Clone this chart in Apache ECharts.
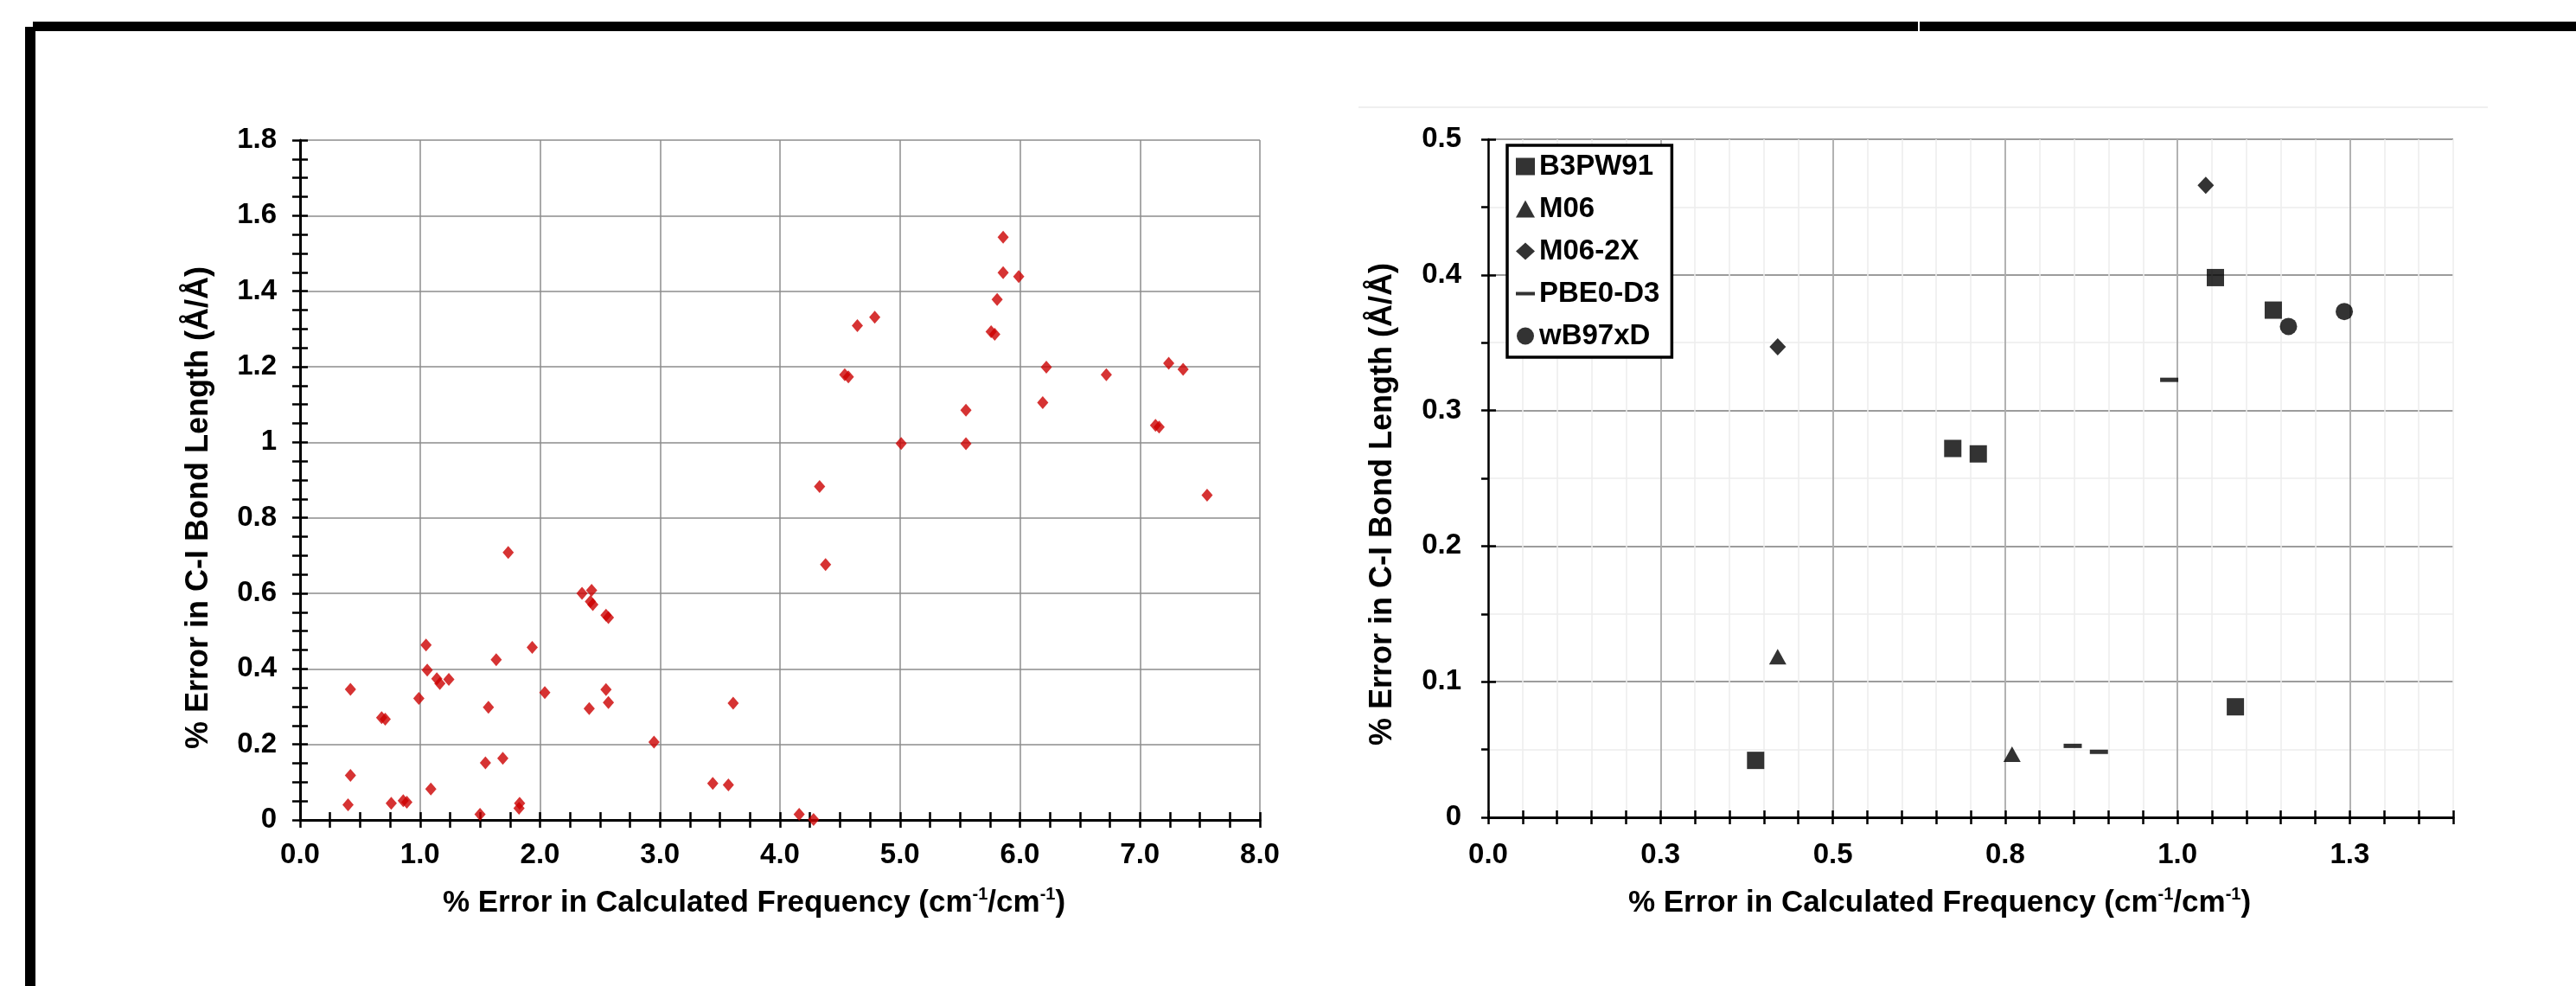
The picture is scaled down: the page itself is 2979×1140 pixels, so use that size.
<!DOCTYPE html>
<html>
<head>
<meta charset="utf-8">
<title>C-I bond length error vs frequency error</title>
<script src="https://cdn.jsdelivr.net/npm/echarts@6.0.0/dist/echarts.min.js"></script>
<style>
  html, body { margin: 0; padding: 0; background: #fff; }
  #chart { width: 2979px; height: 1140px; }
</style>
</head>
<body>
<div id="chart"></div>
<script>
// left panel: every molecule / method pair
let freqErr = [0.40, 0.42, 0.42, 0.68, 0.71, 0.76, 0.86, 0.89, 0.99, 1.05,
    1.06, 1.09, 1.14, 1.165, 1.24, 1.50, 1.545, 1.57, 1.635, 1.69,
    1.735, 1.825, 1.83, 1.935, 2.04, 2.35, 2.43, 2.42, 2.44, 2.41,
    2.55, 2.57, 2.55, 2.57, 2.95, 3.44, 3.57, 3.61, 4.16, 4.28,
    4.33, 4.38, 7.56, 4.54, 4.57, 4.645, 4.79, 5.01, 5.55, 5.55,
    5.76, 5.79, 5.81, 5.86, 5.86, 5.99, 6.19, 6.22, 6.72, 7.13,
    7.16, 7.24, 7.36];
let bondErr = [0.040, 0.118, 0.346, 0.271, 0.267, 0.044, 0.051, 0.047, 0.322, 0.463,
    0.397, 0.082, 0.374, 0.361, 0.372, 0.015, 0.151, 0.298, 0.424, 0.163,
    0.708, 0.031, 0.044, 0.457, 0.337, 0.600, 0.608, 0.578, 0.570, 0.295,
    0.542, 0.536, 0.345, 0.311, 0.206, 0.097, 0.093, 0.309, 0.015, 0.001,
    0.883, 0.676, 0.860, 1.179, 1.173, 1.309, 1.331, 0.997, 1.085, 0.996,
    1.293, 1.286, 1.378, 1.543, 1.449, 1.439, 1.105, 1.199, 1.179, 1.045,
    1.040, 1.209, 1.193];

// right panel: one array of [freq error, bond error] per functional
let b3pw91 = [[0.388, 0.042], [0.674, 0.272], [0.711, 0.268], [1.055, 0.398], [1.084, 0.0815], [1.139, 0.374]];
let m06 = [[0.420, 0.1185], [0.760, 0.0466]];
let m062x = [[0.420, 0.347], [1.041, 0.466]];
let pbe0d3 = [[0.848, 0.0527], [0.886, 0.0483], [0.988, 0.3226]];
let wb97xd = [[1.161, 0.362], [1.242, 0.373]];

let font = '"Liberation Sans", Arial, sans-serif';
let xTitle = '% Error in Calculated Frequency (cm{sup|-1}/cm{sup|-1})';
let yTitle = '% Error in C-I Bond Length (Å/Å)';

function isStep(v, s) {
    return Math.abs(v / s - Math.round(v / s)) < 1e-6;
}

function general(v) {
    let r = Math.round(v * 10) / 10;
    return Number.isInteger(r) ? String(r) : r.toFixed(1);
}

let labelStyle = { color: '#000', fontSize: 33, fontWeight: 'bold', fontFamily: font };
let titleStyle = {
    color: '#000', fontSize: 35, fontWeight: 'bold', fontFamily: font, lineHeight: 40,
    rich: { sup: { fontSize: 20, fontWeight: 'bold', fontFamily: font, verticalAlign: 'top', color: '#000' } }
};

// an axis that only draws ticks (used to get ticks crossing the axis line)
function tickOnly(dim, grid, min, max, step, inside, len) {
    return {
        gridIndex: grid, type: 'value', position: dim === 'x' ? 'bottom' : 'left',
        min: min, max: max, interval: step,
        axisLine: { show: false },
        axisTick: { show: true, inside: inside, length: len, lineStyle: { color: '#000', width: 2.5 } },
        axisLabel: { show: false },
        splitLine: { show: false }
    };
}

// an axis that only draws grid lines
function gridOnly(dim, grid, min, max, step, color, width, showMax) {
    return {
        gridIndex: grid, type: 'value', position: dim === 'x' ? 'bottom' : 'left',
        min: min, max: max, interval: step,
        axisLine: { show: false },
        axisTick: { show: false },
        axisLabel: { show: false },
        splitLine: { show: true, showMaxLine: showMax, lineStyle: { color: color, width: width } }
    };
}

let option = {
    backgroundColor: '#fff',
    animation: false,
    grid: [
        { left: 347, top: 162, width: 1110, height: 786, outerBoundsMode: 'none' },
        { left: 1721, top: 161, width: 1116, height: 784, outerBoundsMode: 'none' }
    ],
    legend: {
        orient: 'vertical', left: 1743, top: 168,
        padding: [8, 14, 8, 10], itemGap: 16, itemWidth: 22, itemHeight: 20,
        borderColor: '#000', borderWidth: 3.5, backgroundColor: '#fff',
        selectedMode: false,
        textStyle: { color: '#000', fontSize: 33, fontWeight: 'bold', fontFamily: font },
        data: [
            { name: 'B3PW91', icon: 'rect' },
            { name: 'M06', icon: 'triangle' },
            { name: 'M06-2X', icon: 'diamond' },
            { name: 'PBE0-D3', icon: 'path://M0,0h22v4h-22z' },
            { name: 'wB97xD', icon: 'circle' }
        ]
    },
    xAxis: [
        gridOnly('x', 0, 0, 8, 1, '#8c8c8c', 1.5, true),
        {
            gridIndex: 0, type: 'value', position: 'bottom', min: 0, max: 8, interval: 0.25,
            axisLine: { show: true, lineStyle: { color: '#000', width: 3 } },
            axisTick: { show: true, length: 9, lineStyle: { color: '#000', width: 2.5 } },
            axisLabel: Object.assign({ interval: 0, margin: 24,
                formatter: v => isStep(v, 1) ? v.toFixed(1) : '' }, labelStyle),
            splitLine: { show: false },
            name: xTitle, nameLocation: 'middle', nameGap: 76,
            nameTextStyle: Object.assign({ padding: [0, 60, 0, 0] }, titleStyle)
        },
        tickOnly('x', 0, 0, 8, 0.25, true, 9),

        gridOnly('x', 1, 0, 1.4, 0.05, '#ececec', 1.5, true),
        gridOnly('x', 1, 0, 1.4, 0.25, '#9c9c9c', 1.5, false),
        {
            gridIndex: 1, type: 'value', position: 'bottom', min: 0, max: 1.4, interval: 0.05,
            axisLine: { show: true, lineStyle: { color: '#000', width: 3 } },
            axisTick: { show: true, length: 8, lineStyle: { color: '#000', width: 2.5 } },
            axisLabel: Object.assign({ interval: 0, margin: 27,
                formatter: v => isStep(v, 0.25) ? v.toFixed(1) : '' }, labelStyle),
            splitLine: { show: false },
            name: xTitle, nameLocation: 'middle', nameGap: 79,
            nameTextStyle: Object.assign({ padding: [0, 72, 0, 0] }, titleStyle)
        },
        tickOnly('x', 1, 0, 1.4, 0.05, true, 8)
    ],
    yAxis: [
        gridOnly('y', 0, 0, 1.8, 0.2, '#8c8c8c', 1.5, true),
        {
            gridIndex: 0, type: 'value', position: 'left', min: 0, max: 1.8, interval: 0.05,
            axisLine: { show: true, lineStyle: { color: '#000', width: 3 } },
            axisTick: { show: true, length: 9, lineStyle: { color: '#000', width: 2.5 } },
            axisLabel: Object.assign({ margin: 27,
                formatter: v => isStep(v, 0.2) ? general(v) : '' }, labelStyle),
            splitLine: { show: false },
            name: yTitle, nameLocation: 'middle', nameGap: 97, nameRotate: 90,
            nameTextStyle: Object.assign({}, titleStyle, { fontSize: 36, padding: [0, 64, 0, 0] })
        },
        tickOnly('y', 0, 0, 1.8, 0.05, true, 9),

        gridOnly('y', 1, 0, 0.5, 0.05, '#ececec', 1.5, true),
        gridOnly('y', 1, 0, 0.5, 0.1, '#9c9c9c', 2, true),
        {
            gridIndex: 1, type: 'value', position: 'left', min: 0, max: 0.5, interval: 0.05,
            axisLine: { show: true, lineStyle: { color: '#000', width: 2.5 } },
            axisTick: { show: true, length: 8, lineStyle: { color: '#000', width: 2.5 } },
            axisLabel: Object.assign({ margin: 31,
                formatter: v => isStep(v, 0.1) ? general(v) : '' }, labelStyle),
            splitLine: { show: false },
            name: yTitle, nameLocation: 'middle', nameGap: 102, nameRotate: 90,
            nameTextStyle: Object.assign({}, titleStyle, { fontSize: 36, padding: [0, 60, 0, 0] })
        },
        tickOnly('y', 1, 0, 0.5, 0.1, true, 9)
    ],
    graphic: [
        { type: 'rect', shape: { x: 38, y: 25, width: 2941, height: 11 }, style: { fill: '#000' } },
        { type: 'rect', shape: { x: 29, y: 31, width: 12, height: 1109 }, style: { fill: '#000' } },
        { type: 'rect', shape: { x: 2218, y: 24, width: 2, height: 13 }, style: { fill: '#fff' } },
        { type: 'line', shape: { x1: 1571, y1: 124, x2: 2877, y2: 124 }, style: { stroke: '#efefef', lineWidth: 2 } }
    ],
    series: [
        {
            type: 'scatter', xAxisIndex: 1, yAxisIndex: 1, symbol: 'diamond', symbolSize: [13, 15],
            itemStyle: { color: '#cc0000' },
            data: freqErr.map((x, i) => [x, bondErr[i]])
        },
        { name: 'B3PW91', type: 'scatter', xAxisIndex: 5, yAxisIndex: 5, symbol: 'rect', symbolSize: 20,
            itemStyle: { color: '#000' }, data: b3pw91 },
        { name: 'M06', type: 'scatter', xAxisIndex: 5, yAxisIndex: 5, symbol: 'triangle', symbolSize: [20, 18],
            itemStyle: { color: '#000' }, data: m06 },
        { name: 'M06-2X', type: 'scatter', xAxisIndex: 5, yAxisIndex: 5, symbol: 'diamond', symbolSize: [19, 20],
            itemStyle: { color: '#000' }, data: m062x },
        { name: 'PBE0-D3', type: 'scatter', xAxisIndex: 5, yAxisIndex: 5, symbol: 'rect', symbolSize: [21, 5],
            itemStyle: { color: '#000' }, data: pbe0d3 },
        { name: 'wB97xD', type: 'scatter', xAxisIndex: 5, yAxisIndex: 5, symbol: 'circle', symbolSize: 20,
            itemStyle: { color: '#000' }, data: wb97xd }
    ]
};

let chart = echarts.init(document.getElementById('chart'));
chart.setOption(option);
</script>
</body>
</html>
